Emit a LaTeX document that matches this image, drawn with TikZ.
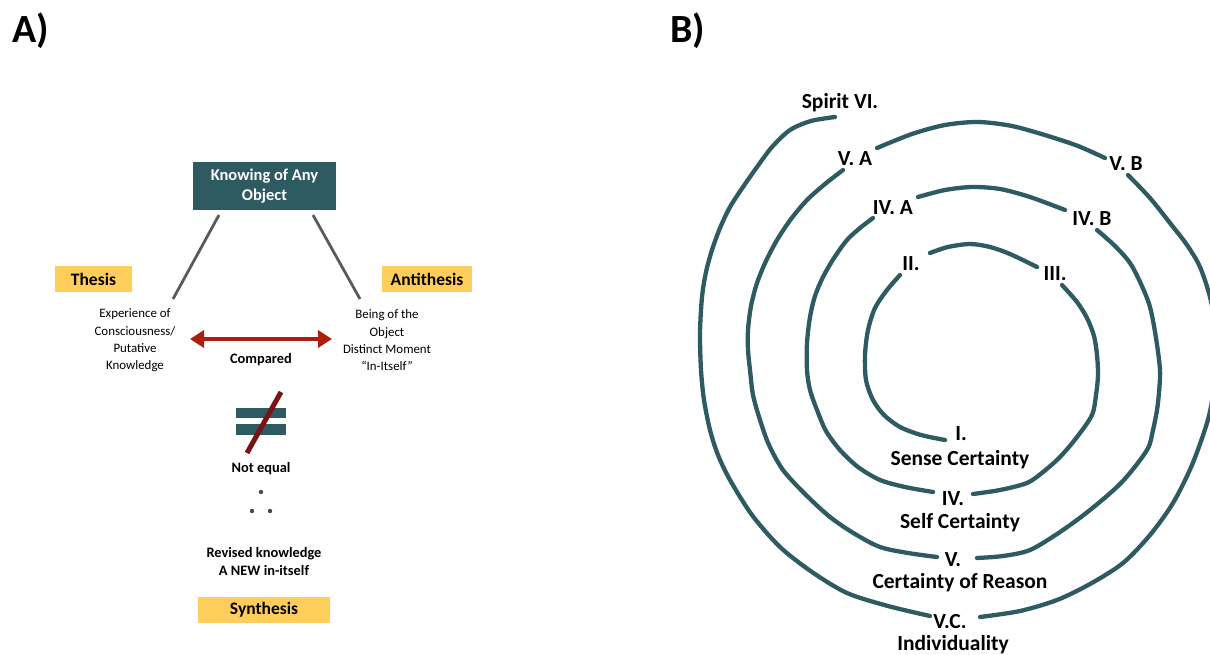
\documentclass[tikz,border=0pt]{standalone}
\usepackage{fontspec}
\setmainfont{Carlito}
\usetikzlibrary{arrows.meta}
\definecolor{tealA}{HTML}{2E5A61}
\definecolor{goldA}{HTML}{FFCD5A}
\definecolor{redA}{HTML}{AC1F0E}
\definecolor{redB}{HTML}{7A1414}
\definecolor{grayA}{HTML}{5A5A5A}
\definecolor{dotA}{HTML}{4A4A4A}
\tikzset{
  x=1pt, y=-1pt,
  panel/.style={font=\bfseries\fontsize{40}{48}\selectfont, anchor=base west, inner sep=0},
  goldbox/.style={fill=goldA, inner sep=0, font=\bfseries\fontsize{17.5}{20}\selectfont},
  small/.style={align=center, inner sep=0, font=\fontsize{12.9}{17.3}\selectfont},
  mid/.style={anchor=base, inner sep=0, font=\bfseries\fontsize{14.4}{18}\selectfont},
  rl/.style={anchor=base, inner sep=0, font=\bfseries\fontsize{21.5}{25}\selectfont},
  ring/.style={draw=tealA, line width=4.3pt, line cap=round},
  stem/.style={draw=grayA, line width=2.8pt},
}
\begin{document}
\begin{tikzpicture}
\useasboundingbox (0,0) rectangle (1210,654);
% ---------- panel labels
\node[panel] (labA) at (12,42) {A)};
\node[panel] (labB) at (670,42) {B)};
% ---------- panel A
\node[fill=tealA, minimum width=143, minimum height=48, inner sep=0, text=white,
      align=center, font=\bfseries\fontsize{16.5}{20}\selectfont] (know) at (264.5,186) {Knowing of Any\\Object};
\node[goldbox, minimum width=77, minimum height=26] (thesis) at (93.5,279) {Thesis};
\node[goldbox, minimum width=90, minimum height=26] (anti) at (427,279) {Antithesis};
\node[small] (exp) at (135,340.5) {Experience of\\Consciousness/\\Putative\\Knowledge};
\node[small] (being) at (387,340.5) {Being of the\\Object\\Distinct Moment\\“In-Itself”};
\coordinate (kL) at (219,215);
\coordinate (kR) at (313,215);
\coordinate (eT) at (173,299);
\coordinate (bT) at (360,299);
\draw[stem] (kL) -- (eT);
\draw[stem] (kR) -- (bT);
\coordinate (cmpL) at (190,339);
\coordinate (cmpR) at (332,339);
\draw[draw=redA, line width=4pt, {Triangle[length=14pt,width=17pt]}-{Triangle[length=14pt,width=17pt]}] (cmpL) -- (cmpR);
\node[mid] (cmp) at (261,363) {Compared};
\fill[tealA] (236,408) rectangle (286,418);
\fill[tealA] (236,424) rectangle (286,435);
\draw[redB, line width=5pt] (281,392) -- (247,453);
\node[mid] (neq) at (261,472) {Not equal};
\fill[dotA] (261,492) circle (2.2);
\fill[dotA] (252,511) circle (2.2);
\fill[dotA] (270,511) circle (2.2);
\node[mid] (rev1) at (264,557) {Revised knowledge};
\node[mid] (rev2) at (264,575) {A NEW in-itself};
\node[goldbox, minimum width=132, minimum height=26] (synth) at (264,610) {Synthesis};
% ---------- panel B spiral
% I -> II
\draw[ring] plot[smooth] coordinates {(945,440) (921,435) (900,427) (884,415) (873,400) (866,380) (865,355) (868,330) (875,308) (887,290) (900,275)};
% II -> III
\draw[ring] plot[smooth] coordinates {(930,253) (948,247) (970,244) (990,247) (1010,254) (1037,267)};
% III -> IV
\draw[ring] plot[smooth] coordinates {(1062,285) (1077,302) (1087,318) (1094,336) (1097,355) (1098,375) (1096,395) (1092,415) (1077,437) (1060,457) (1043,472) (1027,483) (1000,490) (973,494)};
% IV -> IV.A
\draw[ring] plot[smooth] coordinates {(933,492) (905,487) (880,480) (858,467) (840,450) (826,431) (817,410) (810,390) (807,370) (807,343) (810,317) (815,296) (823,277) (834,258) (847,240) (860,228) (873,218)};
% IV.A -> IV.B
\draw[ring] plot[smooth] coordinates {(918,197) (945,190) (972,187) (1000,189) (1030,197) (1065,210)};
% IV.B -> V
\draw[ring] plot[smooth] coordinates {(1097,230) (1115,246) (1130,263) (1141,284) (1150,307) (1156,338) (1160,370) (1159,392) (1157,410) (1153,430) (1147,450) (1122,482) (1090,510) (1060,532) (1030,550) (1003,556) (977,558)};
% V -> V.A
\draw[ring] plot[smooth] coordinates {(937,557) (908,553) (880,547) (855,534) (830,517) (805,494) (783,470) (769,445) (760,420) (753,395) (750,370) (748,350) (748,330) (751,306) (757,283) (766,261) (777,240) (791,219) (807,200) (825,184) (843,170)};
% V.A -> V.B
\draw[ring] plot[smooth] coordinates {(877,148) (912,134) (945,125) (978,122) (1012,126) (1048,136) (1078,146) (1105,158)};
% V.B -> V.C
\draw[ring] plot[smooth] coordinates {(1128,175) (1150,198) (1170,223) (1187,245) (1200,267) (1210,297) (1216,330) (1216,365) (1213,395) (1207,423) (1192,465) (1173,503) (1150,535) (1123,563) (1090,584) (1057,600) (1020,611) (980,617)};
% V.C -> Spirit VI.
\draw[ring] plot[smooth] coordinates {(930,616) (888,606) (847,593) (812,572) (780,547) (752,515) (730,480) (718,455) (710,430) (704,400) (701,370) (700,333) (702,297) (706,272) (712,250) (720,228) (730,207) (743,187) (757,167) (772,147) (790,130) (811,121) (835,117)};
% labels
\node[rl] (sp) at (840,108) {Spirit VI.};
\node[rl] (va) at (855,165) {V. A};
\node[rl] (vb) at (1126,170) {V. B};
\node[rl] (iva) at (893,214) {IV. A};
\node[rl] (ivb) at (1092,225) {IV. B};
\node[rl] (ii) at (911,270) {II.};
\node[rl] (iii) at (1055,280) {III.};
\node[rl] (i) at (961,440) {I.};
\node[rl] (sc) at (960,465) {Sense Certainty};
\node[rl] (iv) at (953,505) {IV.};
\node[rl] (selfc) at (960,528) {Self Certainty};
\node[rl] (v) at (953,566) {V.};
\node[rl] (cr) at (960,588) {Certainty of Reason};
\node[rl] (vc) at (950,628) {V.C.};
\node[rl] (ind) at (953,650) {Individuality};
\end{tikzpicture}
\end{document}
